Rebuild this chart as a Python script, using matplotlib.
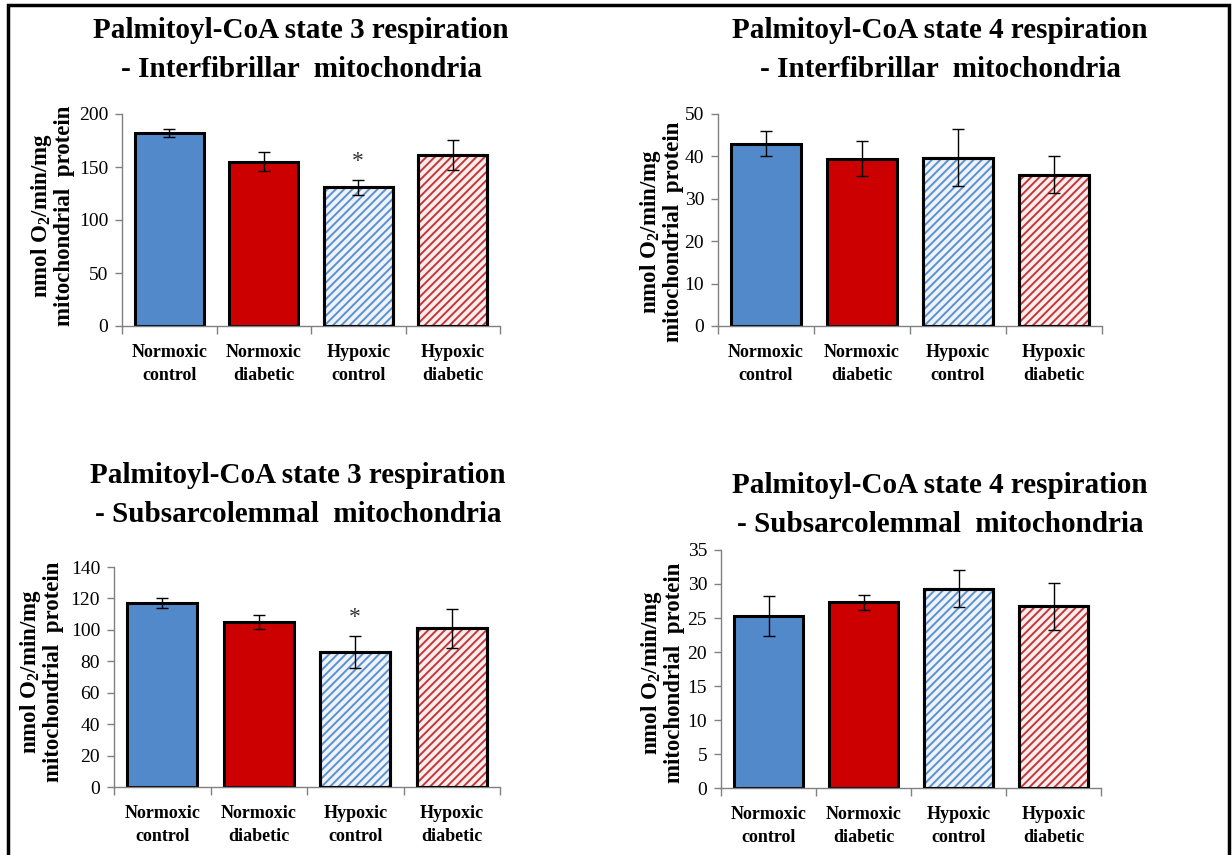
import matplotlib
matplotlib.use("Agg")
import matplotlib.pyplot as plt
from matplotlib.patches import Rectangle

categories = ["Normoxic\ncontrol", "Normoxic\ndiabetic", "Hypoxic\ncontrol", "Hypoxic\ndiabetic"]

s3_if_vals = [182, 155, 131, 161]
s3_if_err = [4, 9, 7, 14]
s4_if_vals = [43, 39.5, 39.7, 35.7]
s4_if_err = [3, 4.2, 6.7, 4.3]
s3_ss_vals = [117, 105, 86, 101]
s3_ss_err = [3, 4.5, 10, 12.5]
s4_ss_vals = [25.3, 27.3, 29.3, 26.7]
s4_ss_err = [2.9, 1.1, 2.7, 3.4]

titles = [
    "Palmitoyl-CoA state 3 respiration\n- Interfibrillar  mitochondria",
    "Palmitoyl-CoA state 4 respiration\n- Interfibrillar  mitochondria",
    "Palmitoyl-CoA state 3 respiration\n- Subsarcolemmal  mitochondria",
    "Palmitoyl-CoA state 4 respiration\n- Subsarcolemmal  mitochondria",
]
ylabel_text = "nmol O$_2$/min/mg\nmitochondrial  protein"
yticks = [[0, 50, 100, 150, 200], [0, 10, 20, 30, 40, 50],
          [0, 20, 40, 60, 80, 100, 120, 140], [0, 5, 10, 15, 20, 25, 30, 35]]
star_vals = [[None, None, 145, None], None, [None, None, 101, None], None]

plt.rcParams['font.family'] = ['Liberation Serif', 'DejaVu Serif']
plt.rcParams['mathtext.fontset'] = 'custom'
plt.rcParams['mathtext.rm'] = 'Liberation Serif:bold'
plt.rcParams['mathtext.it'] = 'Liberation Serif:bold'
plt.rcParams['mathtext.bf'] = 'Liberation Serif:bold'
plt.rcParams['hatch.linewidth'] = 1.4

W, H = 1232, 855
fig = plt.figure(figsize=(W / 100, H / 100), dpi=100)

def fx(px):
    return px / W

def fy(py):
    return 1 - py / H

# axes rectangles in pixel coords: left, top, right, bottom
rects = [(122, 114, 500, 326), (718, 114, 1102, 326),
         (114, 567, 500, 787), (721, 550, 1101, 788)]
title_pos = [(301, 50), (940, 50), (298, 495), (940, 505)]
ylabel_pos = [(52, 216), (661, 232), (41, 672), (662, 673)]

data = [(s3_if_vals, s3_if_err), (s4_if_vals, s4_if_err),
        (s3_ss_vals, s3_ss_err), (s4_ss_vals, s4_ss_err)]

face = ["#5289CB", "#CC0000", "#EEF3FA", "#FCEDED"]
hatch_col = [None, None, "#5B90CE", "#C2363A"]

for i, ((vals, errs), (l, t, r, b)) in enumerate(zip(data, rects)):
    ax = fig.add_axes([fx(l), fy(b), fx(r) - fx(l), fy(t) - fy(b)])
    x = list(range(len(categories)))
    for j in x:
        ax.bar(j, vals[j], width=0.73, color=face[j], edgecolor="black",
               linewidth=2.2, zorder=2)
        if hatch_col[j] is not None:
            ax.bar(j, vals[j], width=0.73, color="none", edgecolor=hatch_col[j],
                   hatch="////", linewidth=0, zorder=2.5)
            ax.bar(j, vals[j], width=0.73, color="none", edgecolor="black",
                   linewidth=2.2, zorder=3)
    ax.errorbar(x, vals, yerr=errs, fmt="none", ecolor="black", elinewidth=1,
                capsize=4, capthick=1, zorder=4)
    if star_vals[i] is not None:
        for j, sv in enumerate(star_vals[i]):
            if sv is not None:
                ax.text(j, sv, "*", ha="center", va="bottom", fontsize=17,
                        color="#333333")
    ax.set_ylim(0, yticks[i][-1])
    ax.set_xlim(-0.5, len(categories) - 0.5)
    ax.set_yticks(yticks[i])
    ax.tick_params(axis="y", labelsize=14, length=5, width=1, color="#808080",
                   direction="out", pad=5)
    ax.set_xticks(x)
    ax.set_xticklabels(categories, fontweight="bold", fontsize=13,
                       linespacing=1.45)
    ax.tick_params(axis="x", length=0, pad=13)
    ax.set_xticks([k + 0.5 for k in range(-1, len(categories))], minor=True)
    ax.tick_params(axis="x", which="minor", length=6, width=1, color="#808080",
                   direction="out")
    for s in ["top", "right"]:
        ax.spines[s].set_visible(False)
    for s in ["left", "bottom"]:
        ax.spines[s].set_color("#808080")
        ax.spines[s].set_linewidth(1)
    lx, ly = ylabel_pos[i]
    fig.text(fx(lx), fy(ly), ylabel_text, rotation=90, ha="center", va="center",
             fontweight="bold", fontsize=16.5, linespacing=0.95,
             multialignment="center")
    tx, ty = title_pos[i]
    fig.text(fx(tx), fy(ty), titles[i], ha="center", va="center",
             fontsize=21, fontweight="bold", linespacing=1.55)

# outer frame
fig.patches.append(Rectangle((fx(8), fy(H + 5)), fx(1229) - fx(8), fy(5) - fy(H + 5),
                             transform=fig.transFigure, fill=False,
                             edgecolor="black", linewidth=2.5))

fig.savefig("out.png", dpi=100)
